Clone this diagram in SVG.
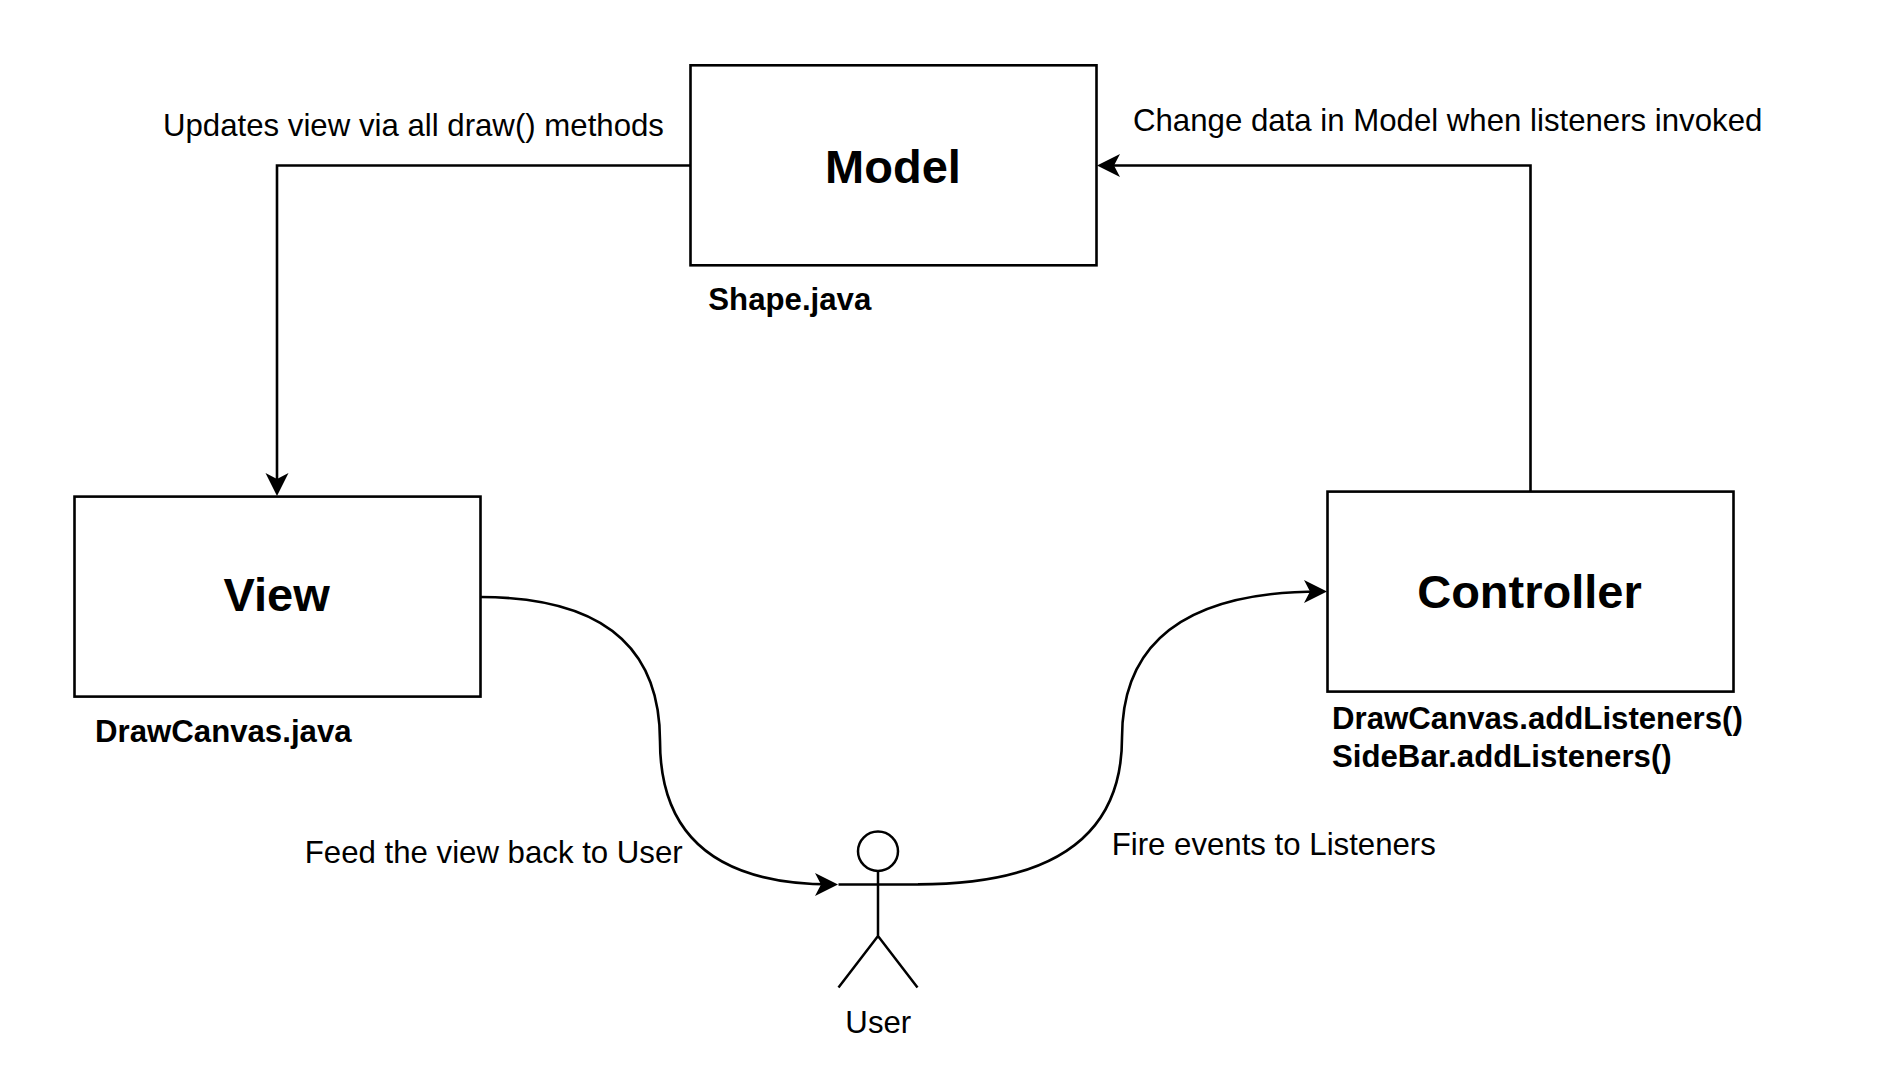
<svg xmlns="http://www.w3.org/2000/svg" width="1880" height="1076" viewBox="0 0 1880 1076">
  <style>
    text { font-family: "Liberation Sans", Arial, sans-serif; fill: #000; }
    .note { font-size: 31.2px; }
    .file { font-size: 31.2px; font-weight: 700; }
    .title { font-size: 47px; font-weight: 700; text-anchor: middle; }
    .box { fill: #fff; stroke: #000; stroke-width: 2.6; }
    .line { fill: none; stroke: #000; stroke-width: 2.5; }
    .edge { fill: none; stroke: #000; stroke-width: 2.6; marker-end: url(#arrow); }
  </style>
  <defs>
    <marker id="arrow" markerUnits="userSpaceOnUse" markerWidth="24" markerHeight="24" refX="17" refY="11.5" orient="auto" overflow="visible">
      <path d="M0,0 L23,11.5 L0,23 L6,11.5 Z" fill="#000"/>
    </marker>
  </defs>
  <rect width="1880" height="1076" fill="#fff"/>
  <g id="connectors">
    <path class="edge" d="M690,165.500 H277 V490"/>
    <path class="edge" d="M1530.500,492 V165.500 H1103"/>
    <path class="edge" d="M480,597 Q660,597 660,741 Q660,884.400 832,884.400"/>
    <path class="edge" d="M918,884.400 Q1122,884.400 1122,738 Q1122,591.500 1321,591.500"/>
  </g>
  <g id="model">
    <rect class="box" x="690.500" y="65.300" width="406" height="200"/>
    <text class="title" x="893" y="182.600">Model</text>
    <text class="file" x="708.300" y="309.500">Shape.java</text>
  </g>
  <g id="view">
    <rect class="box" x="74.500" y="496.600" width="406" height="200"/>
    <text class="title" x="276.600" y="610.800">View</text>
    <text class="file" x="95" y="741.500">DrawCanvas.java</text>
  </g>
  <g id="controller">
    <rect class="box" x="1327.500" y="491.600" width="406" height="200"/>
    <text class="title" x="1529.500" y="608">Controller</text>
    <text class="file" x="1332" y="729">DrawCanvas.addListeners()</text>
    <text class="file" x="1332" y="767">SideBar.addListeners()</text>
  </g>
  <g id="user">
    <ellipse class="line" cx="878" cy="851.200" rx="20" ry="19.700"/>
    <path class="line" d="M878,871 V936 M838.500,884.400 H918 M838.500,987.500 L878,936 L917.500,987.500"/>
    <text class="note" x="878.300" y="1033" text-anchor="middle">User</text>
  </g>
  <g id="labels">
    <text class="note" x="163" y="135.500">Updates view via all draw() methods</text>
    <text class="note" x="1133" y="131">Change data in Model when listeners invoked</text>
    <text class="note" x="304.800" y="863">Feed the view back to User</text>
    <text class="note" x="1111.700" y="855.300">Fire events to Listeners</text>
  </g>
</svg>
